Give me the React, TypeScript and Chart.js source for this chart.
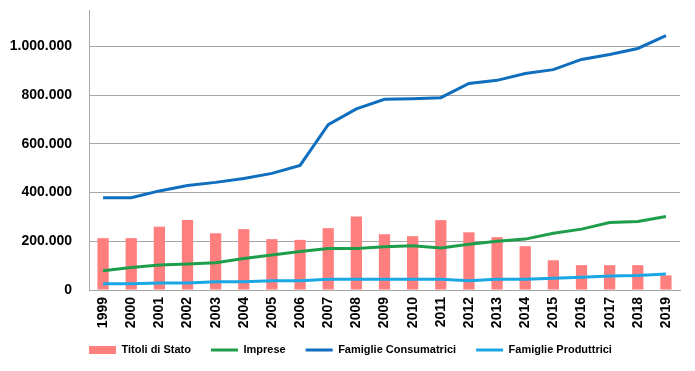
import React, { useEffect, useRef } from "react";
import { Chart, registerables } from "chart.js";

Chart.register(...registerables);

const years = ["1999","2000","2001","2002","2003","2004","2005","2006","2007","2008","2009","2010","2011","2012","2013","2014","2015","2016","2017","2018","2019"];

const titoliDiStato = [213000,213000,260000,287000,233000,250000,209000,206000,254000,302000,229000,221000,287000,237000,217000,180000,122000,102000,102000,102000,60000];
const imprese = [79000,92000,103000,107000,112000,129000,144000,158000,170000,170000,178000,182000,173000,188000,200000,209000,233000,250000,277000,281000,302000];
const famiglieConsumatrici = [379000,379000,407000,429000,442000,458000,479000,512000,679000,744000,783000,786000,790000,848000,861000,889000,905000,947000,967000,992000,1045000];
const famiglieProduttrici = [26000,26000,29000,29000,34000,34000,38000,38000,44000,44000,44000,44000,44000,38000,44000,44000,48000,52000,58000,60000,66000];

const seriesNames = ["Titoli di Stato", "Imprese", "Famiglie Consumatrici", "Famiglie Produttrici"];
const yTickValues = [0, 200000, 400000, 600000, 800000, 1000000];

const FONT = "'Liberation Sans', Arial, sans-serif";
const LEGEND_PAD = 20;

const fmt = (v: number) => String(Math.round(v)).replace(/\B(?=(\d{3})+(?!\d))/g, ".");

const legendPlacer = {
  id: "legendPlacer",
  afterLayout(chart: any) {
    const l = chart.legend;
    if (!l) return;
    const w = l.width;
    l.left = 89 - LEGEND_PAD;
    l.right = l.left + w;
    const lh = 11 * 1.2;
    const h = l.height;
    l.top = 351 - LEGEND_PAD - lh / 2;
    l.bottom = l.top + h;
  },
};

export default function App() {
  const ref = useRef<HTMLCanvasElement | null>(null);
  useEffect(() => {
    if (!ref.current) return;
    const chart = new Chart(ref.current, {
      type: "bar",
      data: {
        labels: years,
        datasets: [
          {
            type: "bar",
            label: seriesNames[0],
            data: titoliDiStato,
            backgroundColor: "#FF7F7F",
            borderWidth: 0,
            categoryPercentage: 1,
            barPercentage: 0.4,
            order: 5,
          },
          {
            type: "line",
            label: seriesNames[1],
            data: imprese,
            borderColor: "#1E9E4A",
            backgroundColor: "#1E9E4A",
            borderWidth: 3,
            pointRadius: 0,
            tension: 0,
            order: 1,
          },
          {
            type: "line",
            label: seriesNames[2],
            data: famiglieConsumatrici,
            borderColor: "#0F6EBE",
            backgroundColor: "#0F6EBE",
            borderWidth: 3,
            pointRadius: 0,
            tension: 0,
            order: 1,
          },
          {
            type: "line",
            label: seriesNames[3],
            data: famiglieProduttrici,
            borderColor: "#1AA7E4",
            backgroundColor: "#1AA7E4",
            borderWidth: 3,
            pointRadius: 0,
            tension: 0,
            order: 1,
          },
        ] as any,
      },
      options: {
        animation: false,
        responsive: true,
        maintainAspectRatio: false,
        layout: { padding: { left: 0, top: 10, right: 15, bottom: 0 } },
        plugins: {
          tooltip: { enabled: false },
          legend: {
            position: "bottom",
            align: "start",
            labels: {
              usePointStyle: true,
              pointStyleWidth: 27,
              boxHeight: 8,
              padding: LEGEND_PAD,
              color: "#000",
              font: { family: FONT, size: 11, weight: "bold" },
              sort: (a: any, b: any) => a.datasetIndex - b.datasetIndex,
              generateLabels: (chart: any) =>
                chart.data.datasets.map((ds: any, i: number) => ({
                  text: ds.label,
                  fillStyle: ds.backgroundColor,
                  strokeStyle: ds.type === "bar" ? ds.backgroundColor : ds.borderColor,
                  lineWidth: ds.type === "bar" ? 0 : 3,
                  pointStyle: ds.type === "bar" ? "rect" : "line",
                  hidden: false,
                  datasetIndex: i,
                  fontColor: "#000",
                })),
            },
          },
        },
        scales: {
          x: {
            grid: { display: false, drawTicks: false },
            border: { color: "#A6A6A6", width: 1 },
            ticks: {
              autoSkip: false,
              maxRotation: 90,
              minRotation: 90,
              padding: 7,
              color: "#000",
              font: { family: FONT, size: 14, weight: "bold" },
            },
            afterFit: (scale: any) => {
              const lg = scale.chart.legend;
              const lh = lg ? lg.height : 0;
              scale.height = 81 - lh;
            },
          },
          y: {
            min: 0,
            max: 1150000,
            grid: { color: "#A6A6A6", lineWidth: 1, drawTicks: false },
            border: { color: "#A6A6A6", width: 1 },
            afterBuildTicks: (scale: any) => {
              scale.ticks = yTickValues.map((v) => ({ value: v }));
            },
            ticks: {
              padding: 17,
              color: "#000",
              font: { family: FONT, size: 14, weight: "bold" },
              callback: (v: any) => fmt(Number(v)),
            },
            afterFit: (scale: any) => {
              scale.width = 89;
              scale.paddingTop = 0;
              scale.paddingBottom = 0;
            },
          },
        },
      },
      plugins: [legendPlacer],
    });
    return () => chart.destroy();
  }, []);
  return (
    <div style={{ position: "fixed", left: 0, top: 0, width: 695, height: 371, background: "#fff" }}>
      <canvas ref={ref} />
    </div>
  );
}
